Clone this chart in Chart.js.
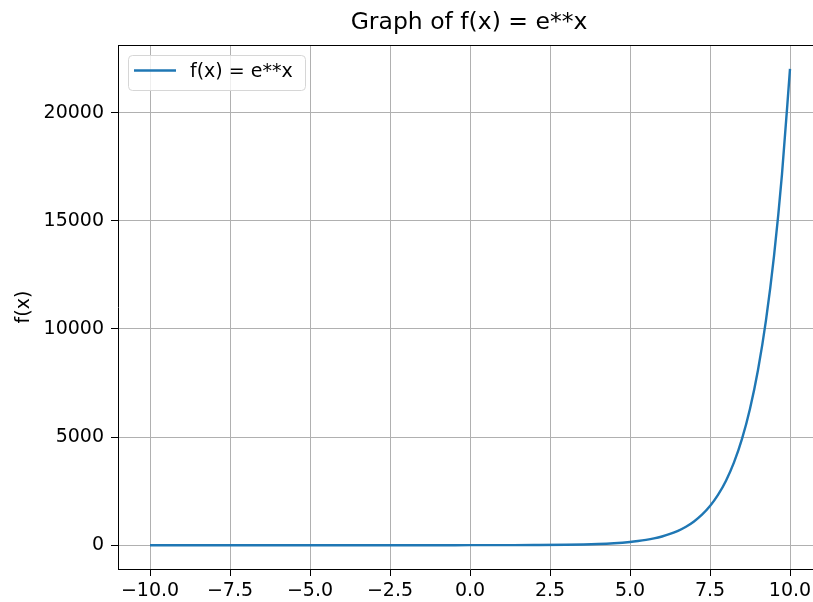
<!DOCTYPE html>
<html>
<head>
<meta charset="utf-8">
<script src="https://cdn.jsdelivr.net/npm/chart.js@4/dist/chart.umd.min.js"></script>
<style>
  html, body { margin: 0; padding: 0; background: #fff; }
  #wrap { width: 813px; height: 602px; overflow: hidden; position: relative; }
  canvas { display: block; }
</style>
</head>
<body>
<div id="wrap"><canvas id="chart" width="830" height="602"></canvas></div>
<script>
// values
const xValues = [-10, -9, -8, -7, -6, -5, -4, -3, -2, -1, 0, 1, 2, 3, 4, 4.5,
                 5, 5.25, 5.5, 5.75, 6, 6.25, 6.5, 6.75, 7, 7.25, 7.5, 7.75,
                 8, 8.25, 8.5, 8.75, 9, 9.25, 9.5, 9.75, 10];
const yValues = [0, 0, 0, 0, 0, 0, 0, 0, 0, 0, 1, 3, 7, 20, 55, 90,
                 148, 191, 245, 314, 403, 518, 665, 854, 1097, 1408, 1808, 2322,
                 2981, 3827, 4915, 6311, 8103, 10405, 13360, 17154, 22026];
const xTicks = [-10, -7.5, -5, -2.5, 0, 2.5, 5, 7.5, 10];
const yTicks = [0, 5000, 10000, 15000, 20000];
const seriesLabel = 'f(x) = e**x';
const chartTitle = 'Graph of f(x) = e**x';
const yAxisLabel = 'f(x)';

const FONT = '"DejaVu Sans", sans-serif';
const LINE_COLOR = '#1f77b4';

const points = xValues.map((x, i) => ({ x: x, y: yValues[i] }));

// title, y label, top spine and the in-plot legend, drawn like matplotlib does
const decorations = {
    id: 'decorations',
    afterDatasetsDraw(chart) {
        const ctx = chart.ctx;
        const area = chart.chartArea;
        ctx.save();

        // top spine
        ctx.strokeStyle = '#000';
        ctx.lineWidth = 1;
        ctx.beginPath();
        ctx.moveTo(area.left, area.top + 0.5);
        ctx.lineTo(area.right, area.top + 0.5);
        ctx.stroke();

        // legend box
        const bx = 128, by = 55, bw = 177, bh = 35, r = 4;
        ctx.beginPath();
        ctx.roundRect(bx + 0.5, by + 0.5, bw, bh, r);
        ctx.fillStyle = 'rgba(255,255,255,0.8)';
        ctx.fill();
        ctx.strokeStyle = '#d6d6d6';
        ctx.stroke();
        ctx.strokeStyle = LINE_COLOR;
        ctx.lineWidth = 2.4;
        ctx.beginPath();
        ctx.moveTo(134, 70.5);
        ctx.lineTo(176, 70.5);
        ctx.stroke();
        ctx.fillStyle = '#000';
        ctx.font = '19px ' + FONT;
        ctx.textBaseline = 'middle';
        ctx.textAlign = 'left';
        ctx.fillText(seriesLabel, 190, 72);

        ctx.restore();
    },
    afterDraw(chart) {
        const ctx = chart.ctx;
        const area = chart.chartArea;
        ctx.save();
        ctx.fillStyle = '#000';
        ctx.textBaseline = 'middle';
        ctx.textAlign = 'center';

        ctx.font = '23.5px ' + FONT;
        ctx.fillText(chartTitle, 469, 23);

        ctx.font = '19px ' + FONT;
        ctx.translate(24, (area.top + area.bottom) / 2);
        ctx.rotate(-Math.PI / 2);
        ctx.fillText(yAxisLabel, 0, 0);
        ctx.restore();
    }
};

new Chart(document.getElementById('chart').getContext('2d'), {
    type: 'line',
    data: {
        datasets: [{
            label: seriesLabel,
            data: points,
            borderColor: LINE_COLOR,
            borderWidth: 2.4,
            pointRadius: 0,
            fill: false,
            cubicInterpolationMode: 'monotone'
        }]
    },
    options: {
        responsive: false,
        animation: false,
        devicePixelRatio: 1,
        layout: { padding: { top: 45, left: 0, right: 8, bottom: 0 } },
        plugins: {
            legend: { display: false },
            title: { display: false },
            tooltip: { enabled: false }
        },
        scales: {
            x: {
                type: 'linear',
                min: -11,
                max: 11,
                afterBuildTicks: scale => { scale.ticks = xTicks.map(v => ({ value: v })); },
                afterFit: scale => { scale.height = 33; },
                ticks: {
                    color: '#000',
                    font: { family: FONT, size: 19 },
                    padding: 4,
                    maxRotation: 0,
                    autoSkip: false,
                    callback: v => v.toFixed(1).replace('-', '\u2212')
                },
                grid: { color: '#b0b0b0', lineWidth: 1, tickColor: '#000', tickLength: 7 },
                border: { color: '#000', width: 1 }
            },
            y: {
                type: 'linear',
                min: -1101,
                max: 23127,
                afterBuildTicks: scale => { scale.ticks = yTicks.map(v => ({ value: v })); },
                afterFit: scale => { scale.width = 118; },
                ticks: {
                    color: '#000',
                    font: { family: FONT, size: 19 },
                    padding: 7,
                    autoSkip: false,
                    callback: v => String(v)
                },
                grid: { color: '#b0b0b0', lineWidth: 1, tickColor: '#000', tickLength: 7 },
                border: { color: '#000', width: 1 }
            }
        }
    },
    plugins: [decorations]
});
</script>
</body>
</html>
